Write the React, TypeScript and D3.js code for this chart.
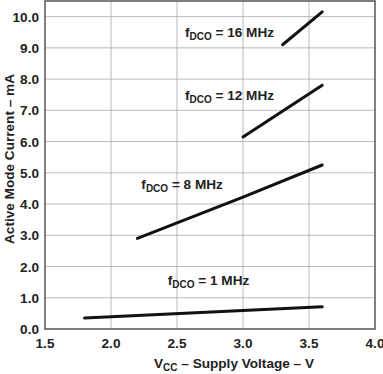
import React, { useEffect, useRef } from 'react';
import * as d3 from 'd3';

// supply voltage (V) vs active mode current (mA), one array per DCO frequency
const series1MHz: [number, number][] = [[1.8, 0.35], [3.6, 0.71]];
const series8MHz: [number, number][] = [[2.2, 2.9], [3.0, 4.22], [3.6, 5.25]];
const series12MHz: [number, number][] = [[3.0, 6.15], [3.6, 7.8]];
const series16MHz: [number, number][] = [[3.3, 9.1], [3.6, 10.15]];

const seriesLabels = ['1', '8', '12', '16'];
const labelPos: [number, number][] = [[2.43, 1.41], [2.23, 4.49], [2.56, 7.33], [2.56, 9.35]];

const xTicks = [1.5, 2.0, 2.5, 3.0, 3.5, 4.0];
const yTicks = [0, 1, 2, 3, 4, 5, 6, 7, 8, 9, 10];

const W = 383;
const H = 374;
const FONT = '"Liberation Sans", Arial, Helvetica, sans-serif';
const FS = 13.6;
const SUB = 10;

export default function App() {
  const svgRef = useRef<SVGSVGElement>(null);

  useEffect(() => {
    if (!svgRef.current) return;
    const svg = d3.select(svgRef.current);
    svg.selectAll('*').remove();

    const left = 45, right = 375, top = 1, bottom = 329;

    const x = d3.scaleLinear().domain([1.5, 4.0]).range([left, right]);
    const y = d3.scaleLinear().domain([0, 10.5]).range([bottom, top]);

    // grid
    const grid = svg.append('g').attr('stroke', '#a8a8a8').attr('stroke-width', 0.8);
    xTicks.slice(1, -1).forEach(t => {
      grid.append('line').attr('x1', x(t)).attr('x2', x(t)).attr('y1', top).attr('y2', bottom);
    });
    yTicks.slice(1).forEach(t => {
      grid.append('line').attr('x1', left).attr('x2', right).attr('y1', y(t)).attr('y2', y(t));
    });

    // frame
    svg.append('rect')
      .attr('x', left).attr('y', top)
      .attr('width', right - left).attr('height', bottom - top)
      .attr('fill', 'none').attr('stroke', '#555').attr('stroke-width', 1.5);

    // tick labels
    svg.append('g').selectAll('text').data(xTicks).join('text')
      .attr('x', d => x(d)).attr('y', 347.5)
      .attr('text-anchor', 'middle')
      .attr('font-family', FONT).attr('font-weight', 'bold').attr('font-size', FS)
      .attr('fill', '#222')
      .text(d => d.toFixed(1));

    svg.append('g').selectAll('text').data(yTicks).join('text')
      .attr('x', 39).attr('y', d => y(d) + 5)
      .attr('text-anchor', 'end')
      .attr('font-family', FONT).attr('font-weight', 'bold').attr('font-size', FS)
      .attr('fill', '#222')
      .text(d => d.toFixed(1));

    // axis titles
    const xt = svg.append('text')
      .attr('x', 234).attr('y', 368)
      .attr('text-anchor', 'middle')
      .attr('font-family', FONT).attr('font-weight', 'bold').attr('font-size', FS)
      .attr('fill', '#222');
    xt.append('tspan').text('V');
    xt.append('tspan').attr('font-size', SUB).attr('dy', 3).text('CC');
    xt.append('tspan').attr('dy', -3).text(' – Supply Voltage – V');

    svg.append('text')
      .attr('transform', `translate(14,159) rotate(-90)`)
      .attr('text-anchor', 'middle')
      .attr('font-family', FONT).attr('font-weight', 'bold').attr('font-size', FS)
      .attr('fill', '#222')
      .text('Active Mode Current – mA');

    // curves
    const line = d3.line<[number, number]>().x(d => x(d[0])).y(d => y(d[1]));
    [series1MHz, series8MHz, series12MHz, series16MHz].forEach(s => {
      svg.append('path')
        .attr('d', line(s))
        .attr('fill', 'none').attr('stroke', '#111')
        .attr('stroke-width', 3).attr('stroke-linecap', 'round');
    });

    // series labels
    seriesLabels.forEach((lab, i) => {
      const t = svg.append('text')
        .attr('x', x(labelPos[i][0])).attr('y', y(labelPos[i][1]))
        .attr('font-family', FONT).attr('font-weight', 'bold').attr('font-size', FS)
        .attr('fill', '#222');
      t.append('tspan').text('f');
      t.append('tspan').attr('font-size', SUB).attr('dy', 3).text('DCO');
      t.append('tspan').attr('dy', -3).text(` = ${lab} MHz`);
    });
  }, []);

  return (
    <svg
      ref={svgRef}
      width={W}
      height={H}
      style={{ position: 'absolute', left: 0, top: 0, background: '#fff' }}
    />
  );
}
